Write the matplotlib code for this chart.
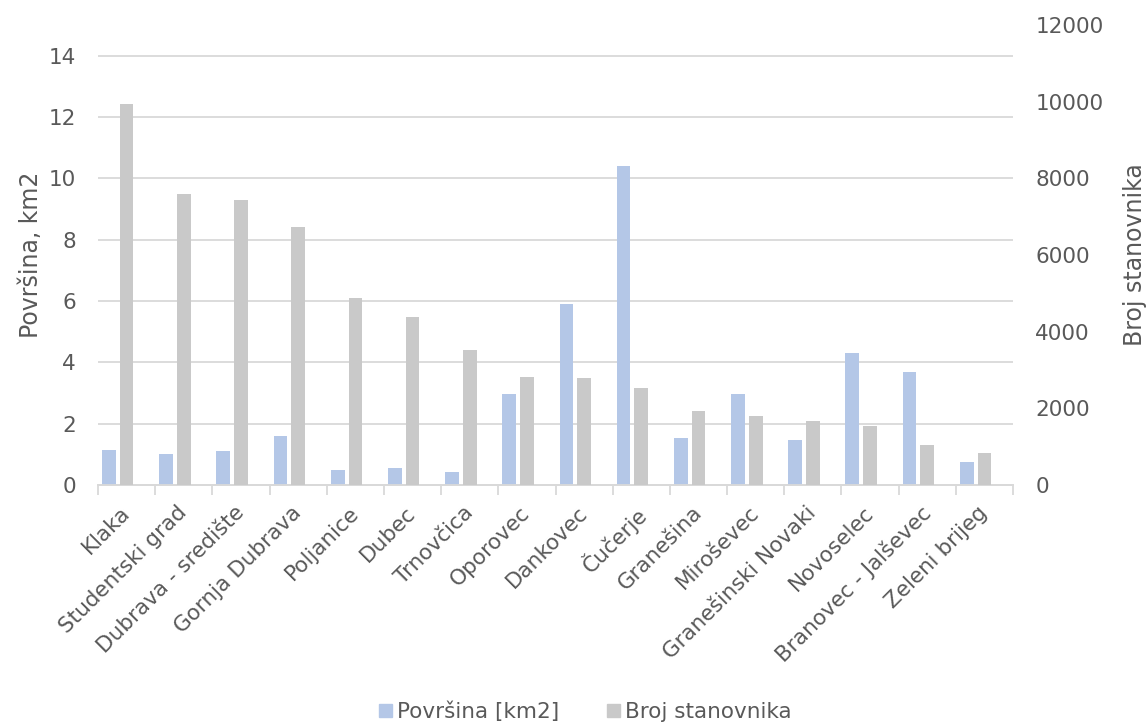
import numpy as np
import matplotlib.pyplot as plt
import matplotlib.transforms as mtransforms
from matplotlib.patches import Patch

plt.rcParams['font.family'] = ['DejaVu Sans']

# podaci
naselja = ['Klaka', 'Studentski grad', 'Dubrava - središte', 'Gornja Dubrava',
           'Poljanice', 'Dubec', 'Trnovčica', 'Oporovec', 'Dankovec', 'Čučerje',
           'Granešina', 'Miroševec', 'Granešinski Novaki', 'Novoselec',
           'Branovec - Jalševec', 'Zeleni brijeg']
povrsina = [1.15, 1.01, 1.12, 1.61, 0.49, 0.57, 0.42, 2.96, 5.89, 10.4,
            1.54, 2.96, 1.48, 4.30, 3.68, 0.75]
stanovnici = [9950, 7600, 7440, 6730, 4870, 4390, 3520, 2830, 2780, 2520,
              1930, 1800, 1670, 1550, 1050, 840]

plava = '#B4C7E7'
siva = '#C9C9C9'
tekst = '#595959'
mreza = '#D9D9D9'

fig = plt.figure(figsize=(11.48, 7.24), dpi=100)
ax = fig.add_axes([0.0854, 0.330, 0.797, 0.6355])
ax2 = ax.twinx()

x = np.arange(len(naselja))
w = 0.24
ax.bar(x - 0.31, povrsina, w, color=plava, zorder=3)
ax2.bar(x, stanovnici, w, color=siva, zorder=3)

ax.set_xlim(-0.5, len(naselja) - 0.5)
ax.set_ylim(0, 15)
ax.set_yticks(range(0, 15, 2))
ax2.set_ylim(0, 12000)
ax2.set_yticks(range(0, 12001, 2000))

ax.grid(axis='y', color=mreza, linewidth=1.3, zorder=0)
ax.set_axisbelow(True)

fs = 15.5
for a in (ax, ax2):
    for s in ('top', 'left', 'right'):
        a.spines[s].set_visible(False)
    a.spines['bottom'].set_color(mreza)
    a.spines['bottom'].set_linewidth(1.3)
    a.tick_params(axis='y', length=0, pad=16, labelsize=fs, labelcolor=tekst)

# oznake kategorija i crtice na granicama
ax.set_xticks(x)
ax.set_xticklabels(naselja, rotation=45, ha='right', rotation_mode='anchor',
                   fontsize=fs, color=tekst)
ax.tick_params(axis='x', length=0, pad=14)
pomak = mtransforms.ScaledTranslation(-7 / 100, 2 / 100, fig.dpi_scale_trans)
for lbl in ax.get_xticklabels():
    lbl.set_transform(lbl.get_transform() + pomak)
ax.set_xticks(np.arange(-0.5, len(naselja)), minor=True)
ax.tick_params(axis='x', which='minor', length=7, width=1.3, color=mreza)

ax.set_ylabel('Površina, km2', fontsize=17, color=tekst, labelpad=4)
ax2.set_ylabel('Broj stanovnika', fontsize=17, color=tekst, labelpad=14)

leg = fig.legend(handles=[Patch(color=plava, label='Površina [km2]'),
                          Patch(color=siva, label='Broj stanovnika')],
                 loc='lower center', bbox_to_anchor=(0.51, -0.024), ncol=2,
                 frameon=False, fontsize=fs, handlelength=0.6,
                 handleheight=0.6, handletextpad=0.25, columnspacing=2.2)
for t in leg.get_texts():
    t.set_color(tekst)

fig.savefig('out.png', dpi=100)
